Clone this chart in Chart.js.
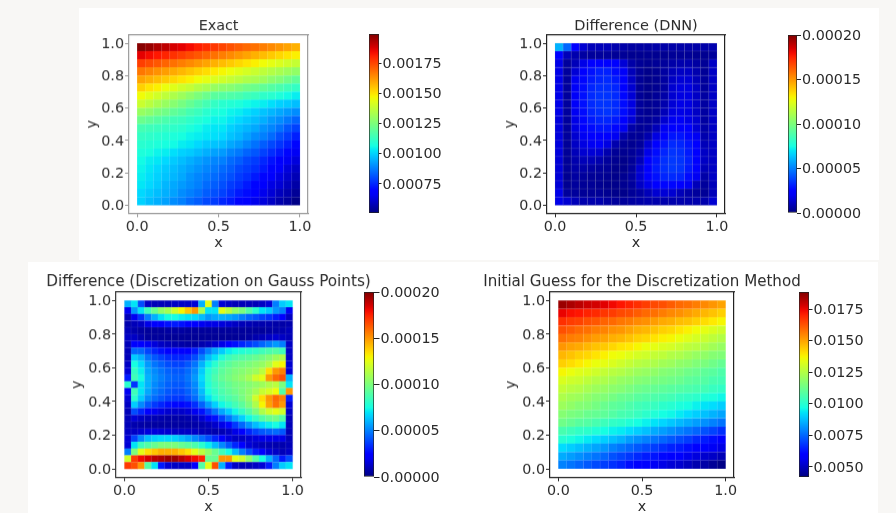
<!DOCTYPE html>
<html>
<head>
<meta charset="utf-8">
<title>Exact vs difference heatmaps</title>
<script src="https://cdn.jsdelivr.net/npm/chart.js@4/dist/chart.umd.min.js"></script>
<style>
    html, body { margin: 0; padding: 0; width: 896px; height: 513px; overflow: hidden; background: #f8f7f5; }
    .sheet { position: absolute; background: #fff; }
    canvas { position: absolute; filter: blur(0.6px); }
</style>
</head>
<body>
<div class="sheet" style="left:79px;top:8px;width:800px;height:252px"></div>
<div class="sheet" style="left:28px;top:262px;width:850px;height:251px"></div>
<script>
const xTicks = [0, 0.5, 1];
const yTicks = [0, 0.2, 0.4, 0.6, 0.8, 1];

const exactTicks = [0.00075, 0.001, 0.00125, 0.0015, 0.00175];
const differenceTicks = [0, 0.00005, 0.0001, 0.00015, 0.0002];
const guessTicks = [0.005, 0.0075, 0.01, 0.0125, 0.015, 0.0175];

// rows run from y=1 down to y=0, columns from x=0 to x=1
// exact: units of 1e-5
const exactValues = [
    [198,196,193,191,188,186,184,181,179,177,175,173,171,169,168,166,164,162,160,158],
    [186,184,182,180,178,176,174,172,170,168,166,164,162,160,158,156,154,152,150,148],
    [176,174,172,170,168,166,164,162,160,158,156,154,152,150,148,146,144,142,140,138],
    [167,165,163,161,159,157,155,153,151,149,147,145,143,141,139,137,135,133,131,129],
    [160,158,156,154,152,150,148,146,144,142,140,138,136,134,133,131,128,126,123,120],
    [153,150,148,145,143,140,138,135,133,130,128,127,125,123,122,120,118,116,114,112],
    [146,143,140,137,134,131,128,125,122,119,118,117,116,114,113,111,110,108,106,104],
    [139,136,133,130,127,124,121,118,115,112,110,109,108,106,105,104,102,100,99,97],
    [130,128,125,123,120,118,115,113,110,108,107,105,104,102,100,98,96,94,92,90],
    [122,120,118,116,114,113,111,109,107,105,105,103,101,99,97,95,92,90,87,84],
    [115,114,113,112,111,110,108,106,104,103,103,100,98,96,94,91,89,86,82,79],
    [112,111,110,109,108,107,105,104,103,102,101,98,96,93,90,88,85,81,78,74],
    [110,109,108,107,106,104,103,101,99,98,97,94,92,89,86,83,80,77,74,70],
    [108,107,105,104,102,100,99,97,95,93,92,89,87,84,82,79,76,73,70,66],
    [106,104,103,101,99,97,95,93,91,89,88,85,83,80,78,75,72,69,66,63],
    [105,103,101,99,97,95,93,91,89,87,85,83,80,78,76,73,70,67,63,60],
    [104,102,100,98,96,94,91,89,87,85,83,81,78,76,73,70,67,64,61,58],
    [103,101,99,96,94,92,90,88,85,83,81,78,76,73,70,67,64,62,59,56],
    [101,99,97,95,93,90,88,86,83,81,79,76,73,71,68,65,62,59,57,54],
    [100,97,95,93,90,88,85,83,80,78,75,73,70,68,65,63,60,57,55,52]
];

// DNN difference: units of 1e-6
const dnnValues = [
    [60,45,22,14,10,10,10,8,7,6,6,6,7,7,7,7,7,7,7,8],
    [22,10,8,6,5,5,5,4,4,3,3,3,3,3,4,4,4,3,3,5],
    [18,5,10,18,23,25,25,22,15,7,4,3,4,5,7,8,8,6,4,12],
    [18,5,15,23,28,31,31,27,21,10,4,2,3,6,10,12,12,8,4,12],
    [18,5,20,26,30,32,33,30,23,12,4,2,3,6,12,15,15,10,5,12],
    [18,5,21,27,32,34,34,32,25,14,4,2,3,6,14,17,17,12,5,12],
    [18,5,21,28,33,35,35,33,26,15,4,2,4,7,14,17,17,12,6,12],
    [18,5,21,28,33,35,35,33,27,17,5,3,4,8,15,18,17,12,6,12],
    [18,5,20,27,32,34,35,33,27,17,5,3,4,10,17,18,17,12,6,12],
    [16,5,18,26,30,32,32,30,25,15,5,4,6,14,20,21,18,14,6,12],
    [16,5,17,23,27,29,29,26,20,7,4,5,10,20,24,24,22,15,7,12],
    [16,5,14,20,24,25,24,20,8,4,4,8,17,25,29,29,26,20,8,12],
    [16,4,12,17,20,21,17,8,4,3,5,14,22,29,33,32,29,22,10,12],
    [16,4,10,14,15,14,8,4,3,4,7,18,27,32,35,34,30,23,12,12],
    [15,4,8,10,10,8,5,3,2,4,10,22,29,34,36,35,31,24,12,12],
    [15,4,7,7,6,5,4,2,2,5,14,23,30,34,36,35,30,23,10,12],
    [15,3,6,5,4,4,3,2,3,6,14,22,28,32,33,32,27,20,7,12],
    [15,3,5,4,4,3,2,2,3,5,12,18,23,26,26,24,20,10,5,10],
    [18,5,5,4,4,4,3,2,2,4,6,10,14,15,14,10,7,5,4,10],
    [18,14,10,8,8,8,6,5,5,6,7,8,8,8,8,8,8,8,8,14]
];

// Gauss points difference: units of 1e-6
const gaussValues = [
    [60,70,40,12,10,10,10,12,12,12,15,60,125,50,15,12,10,10,10,10,12,15,50,65,70],
    [20,55,70,85,95,105,110,120,130,140,150,110,70,70,125,115,105,100,90,80,70,65,55,50,20],
    [10,20,35,50,60,70,75,75,72,70,68,62,55,58,60,58,55,50,45,42,38,35,30,25,12],
    [8,10,12,18,22,25,28,30,28,25,22,20,18,18,16,14,12,10,9,8,8,8,7,7,8],
    [10,8,6,5,5,5,6,6,6,5,5,5,5,5,5,5,5,5,5,5,5,6,7,8,10],
    [12,12,8,5,5,5,4,4,4,4,4,4,4,4,4,4,4,5,6,8,10,12,14,12,10],
    [10,25,25,20,16,12,10,8,7,6,6,8,10,14,18,22,28,32,36,40,45,50,55,50,12],
    [10,45,45,38,32,28,24,22,22,24,30,40,50,58,65,72,75,78,80,82,85,88,90,85,12],
    [10,65,60,48,42,38,34,32,32,34,40,50,62,70,78,84,88,90,92,95,98,102,108,112,12],
    [12,75,68,55,48,44,40,38,38,42,48,60,72,80,88,92,96,98,100,103,106,112,125,130,14],
    [15,82,72,58,52,48,44,42,42,46,52,65,78,85,92,96,100,102,105,108,115,135,150,155,15],
    [30,85,75,60,54,50,46,44,44,48,55,68,80,88,94,98,102,105,110,120,125,150,160,165,60],
    [80,35,70,60,52,48,44,42,42,46,52,65,78,85,90,94,98,100,102,105,108,112,115,100,70],
    [20,85,70,58,50,46,42,40,40,44,50,62,75,82,88,92,96,100,104,110,118,122,128,90,150],
    [15,80,65,52,46,42,38,36,36,40,46,58,70,78,84,88,92,98,105,120,135,150,160,155,30],
    [12,65,52,42,36,32,28,26,26,28,34,44,56,66,74,80,86,92,100,112,130,148,158,150,15],
    [10,40,32,24,20,17,14,13,13,15,20,28,38,48,58,66,74,82,90,100,112,120,125,120,12],
    [10,15,12,10,9,8,7,7,7,8,10,14,20,28,38,48,58,66,74,82,90,95,98,90,10],
    [10,8,7,6,6,6,6,6,6,6,7,8,10,13,18,26,36,45,54,62,68,72,75,70,10],
    [12,12,14,16,16,15,14,12,12,12,12,10,9,8,9,12,18,25,32,38,42,44,46,42,10],
    [15,38,52,62,66,68,68,66,62,58,52,46,40,32,24,16,12,12,14,16,18,18,18,18,10],
    [15,70,85,90,95,100,100,100,95,92,88,80,72,62,52,42,32,22,15,12,10,9,8,8,10],
    [50,100,125,135,140,145,145,145,140,135,125,115,105,95,85,75,62,50,40,30,22,15,12,10,12],
    [120,170,180,185,190,192,195,195,190,185,180,175,95,95,150,150,125,120,105,90,75,60,45,30,40],
    [170,165,150,90,70,30,15,12,12,12,25,90,125,165,60,30,12,10,10,12,15,30,50,65,70]
];

// initial guess: units of 1e-4
const guessValues = [
    [185,183,181,179,178,176,174,172,170,168,166,164,163,161,159,158,156,154,152,150],
    [175,173,172,170,169,167,166,164,163,161,159,158,156,154,153,151,149,147,145,143],
    [168,166,165,163,162,160,159,157,156,154,153,151,149,148,146,145,143,141,139,137],
    [163,161,159,158,156,155,153,152,150,148,147,145,143,142,140,138,136,134,132,130],
    [158,156,155,153,151,150,148,147,145,143,142,140,138,137,135,133,131,129,127,125],
    [152,150,149,147,145,144,142,140,139,137,135,134,132,131,129,127,126,124,122,120],
    [147,145,143,142,140,138,136,135,133,131,130,128,127,125,124,122,120,119,117,116],
    [143,141,139,137,135,134,132,130,128,126,125,124,122,121,119,118,116,115,113,111],
    [137,135,133,132,130,128,126,125,123,121,120,119,117,116,115,113,112,110,109,107],
    [132,130,129,127,125,124,122,120,119,117,116,115,114,113,112,110,109,108,106,105],
    [128,126,125,123,121,120,118,117,115,113,112,111,110,109,108,107,106,105,103,102],
    [124,122,121,119,117,116,114,112,111,109,108,107,106,105,103,102,101,99,98,96],
    [121,119,117,116,114,112,110,109,107,105,104,103,101,100,98,97,95,93,92,90],
    [117,115,114,112,111,110,108,106,105,103,101,99,97,96,94,92,90,88,86,84],
    [113,111,109,108,106,104,102,101,99,97,95,93,91,89,87,85,83,81,79,77],
    [106,104,102,101,99,97,95,94,92,90,88,85,83,81,79,77,75,72,70,67],
    [100,98,96,94,92,90,88,86,83,81,79,77,75,73,71,69,66,64,62,60],
    [92,90,88,86,84,82,79,77,75,73,71,69,67,65,64,62,60,58,57,55],
    [85,83,81,79,77,75,72,70,68,66,64,63,61,59,58,56,54,52,51,49],
    [79,77,75,73,71,69,67,65,62,60,58,57,55,53,52,50,48,47,45,43]
];

const FONT = { family: '"DejaVu Sans", sans-serif', size: 14.3 };
const TEXT_COLOR = '#2a2a2a';

// matplotlib jet segments: [position, level]
const JET_R = [[0, 0], [0.35, 0], [0.66, 1], [0.89, 1], [1, 0.5]];
const JET_G = [[0, 0], [0.125, 0], [0.375, 1], [0.64, 1], [0.91, 0], [1, 0]];
const JET_B = [[0, 0.5], [0.11, 1], [0.34, 1], [0.65, 0], [1, 0]];

function segment(table, t) {
    for (let i = 1; i < table.length; i++) {
        if (t <= table[i][0]) {
            const [x0, y0] = table[i - 1];
            const [x1, y1] = table[i];
            return y0 + (y1 - y0) * (t - x0) / (x1 - x0);
        }
    }
    return table[table.length - 1][1];
}

function jetColor(t) {
    const v = Math.min(Math.max(t, 0), 1);
    const c = [JET_R, JET_G, JET_B].map((table) => Math.round(segment(table, v) * 255));
    return `rgb(${c[0]},${c[1]},${c[2]})`;
}

function cellsFrom(rows, unit) {
    const n = rows.length;
    const cells = [];
    rows.forEach((row, r) => row.forEach((v, c) => {
        cells.push({ x: (c + 0.5) / n, y: 1 - (r + 0.5) / n, v: v * unit });
    }));
    return cells;
}

function createHeatmap(p) {
    const M = 90, T = 24, xH = 38.6;
    const titleHeight = p.titleSize * 1.2 + 0.5;
    const canvas = document.createElement('canvas');
    const w = p.box[2] + 2 * M, h = p.box[3] + T + xH;
    canvas.style.left = (p.box[0] - M) + 'px';
    canvas.style.top = (p.box[1] - T) + 'px';
    canvas.style.width = w + 'px';
    canvas.style.height = h + 'px';
    canvas.width = w;
    canvas.height = h;
    document.body.appendChild(canvas);

    const frame = { display: true, color: p.frame, width: 1.2 };
    const spacer = (pos, min, max, fit) => ({
        position: pos, min, max, display: true,
        grid: { display: false }, ticks: { display: false }, border: frame, afterFit: fit
    });
    const n = p.values.length;

    new Chart(canvas, {
        type: 'scatter',
        data: {
            datasets: [{
                data: cellsFrom(p.values, p.unit),
                pointStyle: 'rect',
                pointRadius: (ctx) => {
                    const s = ctx.chart.scales.x;
                    return Math.abs(s.getPixelForValue(1 / n) - s.getPixelForValue(0)) * Math.SQRT1_2 + 0.15;
                },
                pointBackgroundColor: (ctx) => jetColor((ctx.raw.v - p.min) / (p.max - p.min)),
                pointBorderColor: p.mesh,
                pointBorderWidth: 0.5
            }]
        },
        options: {
            responsive: false,
            animation: false,
            layout: { padding: { left: 0, right: 0, top: T - titleHeight, bottom: 0 } },
            plugins: {
                legend: { display: false },
                tooltip: { enabled: false },
                title: {
                    display: true, text: p.title, color: TEXT_COLOR,
                    font: { ...FONT, size: p.titleSize, weight: 'normal', lineHeight: 1.2 },
                    padding: { top: 0, bottom: 0.5 }
                }
            },
            scales: {
                x: {
                    min: -0.05, max: 1.05,
                    afterBuildTicks: (s) => { s.ticks = xTicks.map((value) => ({ value })); },
                    afterFit: (s) => { s.height = xH; },
                    grid: { drawOnChartArea: false, tickLength: 4, color: p.frame },
                    border: frame,
                    ticks: {
                        color: TEXT_COLOR, font: FONT, padding: 1, maxRotation: 0, autoSkip: false,
                        callback: (v) => v.toFixed(1)
                    },
                    title: { display: true, text: 'x', color: TEXT_COLOR, font: FONT, padding: 0 }
                },
                y: {
                    min: -0.05, max: 1.05,
                    afterBuildTicks: (s) => { s.ticks = yTicks.map((value) => ({ value })); },
                    afterFit: (s) => { s.width = M; },
                    grid: { drawOnChartArea: false, tickLength: 4, color: p.frame },
                    border: frame,
                    ticks: {
                        color: TEXT_COLOR, font: FONT, padding: 1, autoSkip: false, labelOffset: 1,
                        callback: (v) => v.toFixed(1)
                    },
                    title: {
                        display: true, text: 'y', color: TEXT_COLOR, font: FONT,
                        padding: { top: M - p.yW, bottom: 0 }
                    }
                },
                // empty axes: close the frame and keep the title centred on the plot
                y2: spacer('right', 0, 1, (s) => { s.width = M; }),
                x2: spacer('top', 0, 1, (s) => { s.height = 0; })
            }
        }
    });
}

function createColorbar(p) {
    const pad = 12, axisW = 92;
    const [left, top, bw, bh] = p.bar;
    const canvas = document.createElement('canvas');
    const w = bw + axisW, h = bh + 2 * pad;
    canvas.style.left = left + 'px';
    canvas.style.top = (top - pad) + 'px';
    canvas.style.width = w + 'px';
    canvas.style.height = h + 'px';
    canvas.width = w;
    canvas.height = h;
    document.body.appendChild(canvas);

    new Chart(canvas, {
        type: 'bar',
        data: {
            labels: [''],
            datasets: [{
                data: [[p.min, p.max]],
                barPercentage: 1,
                categoryPercentage: 1,
                borderWidth: 1,
                borderColor: '#222',
                borderSkipped: false,
                backgroundColor: (ctx) => {
                    const area = ctx.chart.chartArea;
                    if (!area) return '#00f';
                    const g = ctx.chart.ctx.createLinearGradient(0, area.bottom, 0, area.top);
                    for (let i = 0; i <= 40; i++) g.addColorStop(i / 40, jetColor(i / 40));
                    return g;
                }
            }]
        },
        options: {
            responsive: false,
            animation: false,
            layout: { padding: { top: pad, bottom: pad, left: 0, right: 0 } },
            plugins: { legend: { display: false }, tooltip: { enabled: false } },
            scales: {
                x: { display: false },
                y: {
                    position: 'right',
                    min: p.min, max: p.max,
                    afterBuildTicks: (s) => { s.ticks = p.ticks.map((value) => ({ value })); },
                    afterFit: (s) => { s.width = axisW; },
                    grid: { drawOnChartArea: false, tickLength: p.gap - 1, color: '#222' },
                    border: { display: false },
                    ticks: {
                        color: TEXT_COLOR, font: FONT, padding: 1, autoSkip: false, labelOffset: 1,
                        callback: (v) => v.toFixed(p.digits)
                    }
                }
            }
        }
    });
}

createHeatmap({ title: 'Exact', titleSize: 14.3, box: [129, 35, 179, 178], yW: 45.6, frame: '#999', mesh: 'rgba(255,255,255,0.07)',
    values: exactValues, unit: 1e-5, min: 0.00051, max: 0.00199 });
createHeatmap({ title: 'Difference (DNN)', titleSize: 14.5, box: [547, 35, 178, 178], yW: 45, frame: '#222', mesh: 'rgba(190,190,190,0.28)',
    values: dnnValues, unit: 1e-6, min: 0, max: 0.0002 });
createHeatmap({ title: 'Difference (Discretization on Gauss Points)', titleSize: 15.2, box: [116, 292, 185, 185], yW: 47.6, frame: '#333', mesh: 'rgba(200,200,200,0.16)',
    values: gaussValues, unit: 1e-6, min: 0, max: 0.0002 });
createHeatmap({ title: 'Initial Guess for the Discretization Method', titleSize: 15.1, box: [550, 292, 184, 185], yW: 47.6, frame: '#222', mesh: 'rgba(255,255,255,0.10)',
    values: guessValues, unit: 1e-4, min: 0.0042, max: 0.01885 });

createColorbar({ bar: [369, 34, 10, 179], min: 0.00051, max: 0.00199, ticks: exactTicks, digits: 5, gap: 3.5 });
createColorbar({ bar: [788, 35, 9, 178], min: 0, max: 0.0002, ticks: differenceTicks, digits: 5, gap: 5 });
createColorbar({ bar: [364, 292, 10, 185], min: 0, max: 0.0002, ticks: differenceTicks, digits: 5, gap: 6.5 });
createColorbar({ bar: [799, 292, 10, 185], min: 0.0042, max: 0.01885, ticks: guessTicks, digits: 4, gap: 4.5 });
</script>
</body>
</html>
